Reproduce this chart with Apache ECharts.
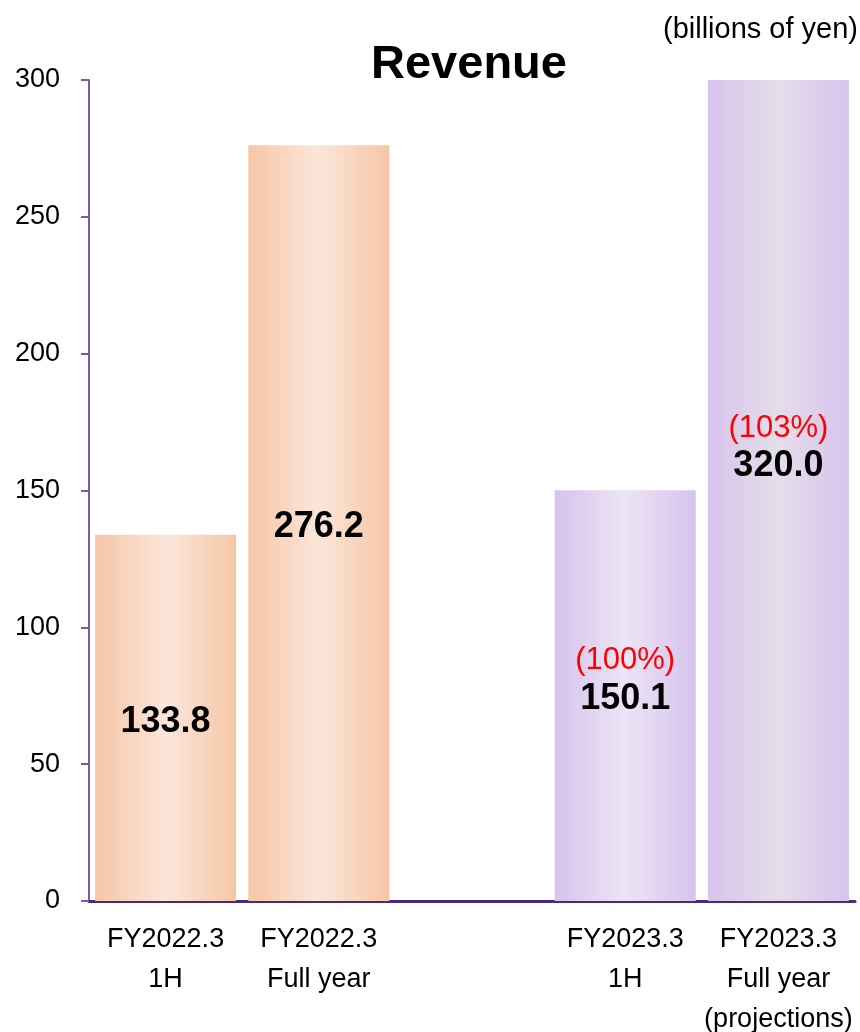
<!DOCTYPE html>
<html>
<head>
<meta charset="utf-8">
<script src="https://cdn.jsdelivr.net/npm/echarts@6/dist/echarts.min.js"></script>
<style>
  html, body { margin: 0; padding: 0; background: #fff; }
  #chart { width: 860px; height: 1032px; }
</style>
</head>
<body>
<div id="chart"></div>
<script>
  // data
  const categories = ['FY2022.3\n1H', 'FY2022.3\nFull year', '', 'FY2023.3\n1H', 'FY2023.3\nFull year\n(projections)'];
  const revenue = [133.8, 276.2, null, 150.1, 320.0];
  const ratios = [null, null, null, '(100%)', '(103%)'];
  const yMin = 0, yMax = 300, yStep = 50;

  const orange = ['#F6C6A6', '#FBE6DA'];
  const purple = ['#D6C3EC', '#EDE4F6'];
  const purple2 = ['#D7C3EC', '#E4DEEA'];
  const palette = [orange, orange, orange, purple, purple2];

  function grad(c) {
    return new echarts.graphic.LinearGradient(0, 0, 1, 0, [
      { offset: 0, color: c[0] },
      { offset: 0.5, color: c[1] },
      { offset: 1, color: c[0] }
    ]);
  }

  const barData = revenue.map((v, i) => v == null ? '-' : {
    value: v,
    itemStyle: { color: grad(palette[i]) }
  });

  const labelData = revenue.map((v, i) => {
    if (v == null) return '-';
    let txt = ratios[i] ? '{p|' + ratios[i] + '}\n{v|' + v.toFixed(1) + '}' : '{v|' + v.toFixed(1) + '}';
    return {
      value: v,
      label: { formatter: txt, offset: ratios[i] ? [0, -16] : [0, 4] }
    };
  });

  let myChart = echarts.init(document.getElementById('chart'));
  let option = {
    animation: false,
    textStyle: { fontFamily: 'Liberation Sans, Arial, sans-serif' },
    graphic: [
      {
        type: 'text', x: 469, y: 65,
        style: { text: 'Revenue', font: 'bold 47px Liberation Sans, Arial', fill: '#000', textAlign: 'center', textVerticalAlign: 'middle' }
      },
      {
        type: 'text', x: 858, y: 30,
        style: { text: '(billions of yen)', font: '29px Liberation Sans, Arial', fill: '#000', textAlign: 'right', textVerticalAlign: 'middle' }
      }
    ],
    grid: { left: 89, right: 5, top: 80, bottom: 131, containLabel: false, outerBoundsMode: 'none' },
    xAxis: {
      type: 'category',
      data: categories,
      axisTick: { show: false },
      axisLine: { lineStyle: { color: '#4B2A7E', width: 3 } },
      axisLabel: { color: '#000', fontSize: 27, lineHeight: 40, margin: 19, interval: 0 }
    },
    yAxis: {
      type: 'value',
      min: yMin, max: yMax, interval: yStep,
      splitLine: { show: false },
      axisLine: { show: true, lineStyle: { color: '#7B5BA6', width: 2 } },
      axisTick: { show: true, length: 8, lineStyle: { color: '#7B5BA6', width: 2 } },
      axisLabel: { color: '#000', fontSize: 27, margin: 29, padding: [4, 0, 0, 0] }
    },
    series: [
      {
        name: 'Revenue',
        type: 'bar',
        barWidth: 141,
        data: barData,
        clip: true
      },
      {
        name: 'labels',
        type: 'bar',
        barWidth: 141,
        barGap: '-100%',
        clip: false,
        silent: true,
        z: 5,
        itemStyle: { color: 'rgba(0,0,0,0)' },
        label: {
          show: true,
          position: 'inside',
          rich: {
            p: { color: '#FF0000', fontSize: 31, lineHeight: 38, fontFamily: 'Liberation Sans' },
            v: { color: '#000', fontSize: 36, fontWeight: 'bold', lineHeight: 38, fontFamily: 'Liberation Sans' }
          }
        },
        data: labelData
      }
    ]
  };
  myChart.setOption(option);
</script>
</body>
</html>
